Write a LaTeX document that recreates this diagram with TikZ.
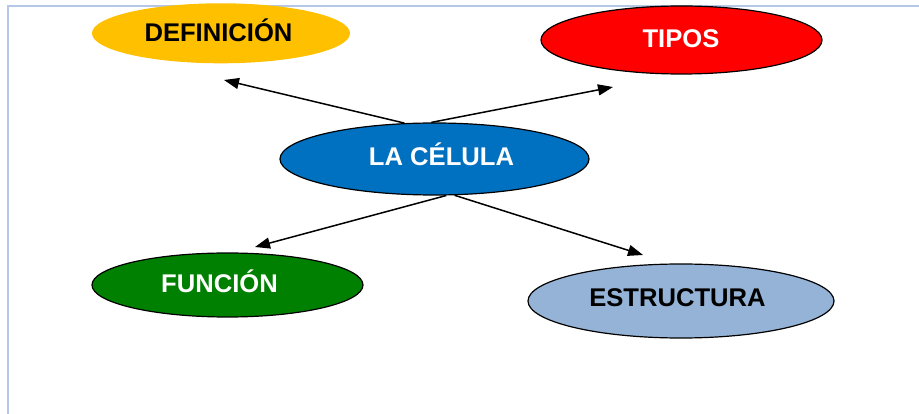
\documentclass[tikz,border=0pt]{standalone}
\usepackage{fontspec}
\setmainfont{Liberation Sans}
\usetikzlibrary{shapes.geometric,arrows.meta}

\definecolor{frameblue}{HTML}{B4C7E7}
\definecolor{defyellow}{HTML}{FFC000}
\definecolor{tiposred}{HTML}{FF0000}
\definecolor{celblue}{HTML}{0070C0}
\definecolor{fungreen}{HTML}{008000}
\definecolor{estblue}{HTML}{95B3D7}

\tikzset{
  topic/.style={ellipse, inner sep=0pt, draw=black, line width=1.2pt},
  lbl/.style={anchor=base, inner sep=0pt, font=\fontsize{25.6}{30}\selectfont\bfseries},
  link/.style={line width=1.5pt, -{Triangle[length=15pt,width=11pt]}}
}

\begin{document}
\begin{tikzpicture}[x=1pt,y=-1pt]
  \useasboundingbox (0,0) rectangle (919,414);
  \fill[white] (0,0) rectangle (919,414);

  % page frame (left and top edges)
  \draw[frameblue, line width=2.4pt] (8,414) -- (8,6) -- (919,6);

  % topic ellipses
  \node[topic, draw=none, fill=defyellow, minimum width=258pt, minimum height=60pt] (def) at (221,33.3) {};
  \node[topic, fill=tiposred, minimum width=281pt, minimum height=68pt] (tip) at (681.5,40) {};
  \node[topic, fill=celblue, minimum width=309pt, minimum height=72pt] (cel) at (434.5,159) {};
  \node[topic, fill=fungreen, minimum width=271pt, minimum height=64pt] (fun) at (227.5,285) {};
  \node[topic, fill=estblue, minimum width=306pt, minimum height=74pt] (est) at (681,301) {};

  % labels
  \node[lbl, text=black] (defl) at (218.5,41.7) {DEFINICIÓN};
  \node[lbl, text=white] (tipl) at (681,48) {TIPOS};
  \node[lbl, text=white] (cell) at (441.5,166) {LA CÉLULA};
  \node[lbl, text=white] (funl) at (219.5,293) {FUNCIÓN};
  \node[lbl, text=black] (estl) at (677.5,307) {ESTRUCTURA};

  % arrow tips stop short of the target ellipses
  \coordinate (defend) at (224,80);
  \coordinate (tipend) at (613,87);
  \coordinate (funend) at (255,247);
  \coordinate (estend) at (643,255);

  \draw[link] (cel.130) -- (defend);
  \draw[link] (cel.95) -- (tipend);
  \draw[link] (cel.-72) -- (funend);
  \draw[link] (cel.-61) -- (estend);
\end{tikzpicture}
\end{document}
